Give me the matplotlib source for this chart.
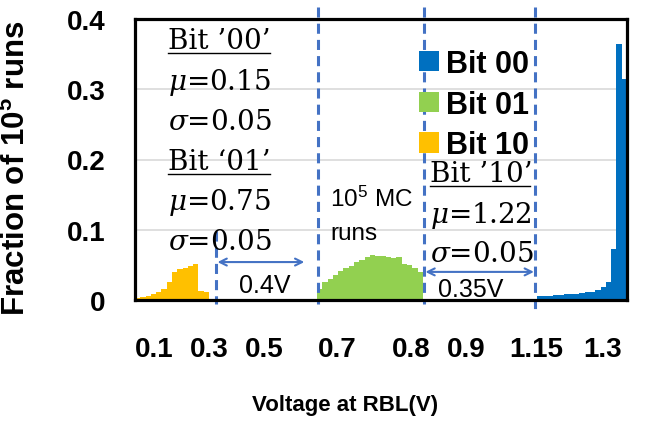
import numpy as np
import matplotlib.pyplot as plt
from matplotlib.lines import Line2D

plt.rcParams['font.family'] = 'Liberation Sans'
plt.rcParams['mathtext.fontset'] = 'custom'
plt.rcParams['mathtext.rm'] = 'Liberation Sans'
plt.rcParams['mathtext.bf'] = 'Liberation Sans:bold'
plt.rcParams['mathtext.it'] = 'Liberation Sans:italic'

W, H = 645, 427

# fraction of runs per voltage bin
bit10 = [0.003, 0.004, 0.006, 0.008, 0.011, 0.016, 0.026, 0.040, 0.044,
         0.046, 0.048, 0.051, 0.013, 0.012]
bit01 = [0.016, 0.025, 0.030, 0.035, 0.041, 0.045, 0.049, 0.054, 0.057,
         0.061, 0.064, 0.062, 0.063, 0.061, 0.060, 0.061, 0.051, 0.050,
         0.045, 0.040]
bit00 = [0.005, 0.006, 0.006, 0.007, 0.007, 0.008, 0.008, 0.009, 0.010,
         0.011, 0.012, 0.014, 0.018, 0.026, 0.073, 0.365, 0.315]

x_tick_labels = ["0.1", "0.3", "0.5", "0.7", "0.8", "0.9", "1.15", "1.3"]
y_tick_vals = [0, 0.1, 0.2, 0.3, 0.4]
y_tick_labels = ["0", "0.1", "0.2", "0.3", "0.4"]

# bin layout on the category axis
start10, start01, start00 = 0, 34.4, 76
tick_pos = [3.6, 14.0, 24.5, 38.3, 52.3, 62.6, 75.8, 88.3]
n_bins = 93

BLUE_LINE = '#4472C4'


def at(x, y):
    return x / W, 1 - y / H


fig = plt.figure(figsize=(W / 100, H / 100), dpi=100)
ax = fig.add_axes([135 / W, 1 - 301 / H, 492 / W, 281 / H])

b00 = ax.bar(start00 + np.arange(len(bit00)), bit00, width=1, align='edge',
             color='#0070C0', lw=0, label='Bit 00')
b01 = ax.bar(start01 + np.arange(len(bit01)), bit01, width=1, align='edge',
             color='#92D050', lw=0, label='Bit 01')
b10 = ax.bar(start10 + np.arange(len(bit10)), bit10, width=1, align='edge',
             color='#FFC000', lw=0, label='Bit 10')

ax.set_xlim(0, n_bins)
ax.set_ylim(0, 0.4)
ax.set_xticks(tick_pos)
ax.set_xticklabels(x_tick_labels, fontsize=20, fontweight='bold')
ax.set_yticks(y_tick_vals)
ax.set_yticklabels(y_tick_labels, fontsize=20, fontweight='bold')
ax.tick_params(axis='x', length=0, pad=26)
ax.tick_params(axis='y', length=0, pad=21)
ax.yaxis.grid(True, color='#D9D9D9', lw=1.2)
ax.set_axisbelow(True)
for s in ax.spines.values():
    s.set_linewidth(2.3)
    s.set_color('black')

ax.set_xlabel('Voltage at RBL(V)', fontsize=16, fontweight='bold')
ax.xaxis.set_label_coords(0.426, -0.335)
fig.text(*at(16, 168), r'Fraction of 10$^\mathbf{5}$ runs', fontsize=22.5,
         fontweight='bold', rotation=90, ha='center', va='center')

ax.legend(handles=[b00, b01, b10], loc='upper left', bbox_to_anchor=at(419, 50),
          bbox_transform=fig.transFigure, frameon=False, borderpad=0,
          borderaxespad=0, handlelength=0.65, handleheight=0.65,
          handletextpad=0.25, labelspacing=0.35,
          prop={'family': 'Liberation Sans', 'weight': 'bold', 'size': 22})

# separation markers between the distributions
dash_kw = dict(color=BLUE_LINE, lw=2.2, dashes=(3.3, 2), clip_on=False, zorder=1)
ax.plot([15.3, 15.3], [0.098, -0.006], **dash_kw)
ax.plot([34.5, 34.5], [0.417, -0.006], **dash_kw)
ax.plot([54.7, 54.7], [0.417, -0.006], **dash_kw)
ax.plot([75.7, 75.7], [0.417, -0.02], **dash_kw)

arrow_kw = dict(arrowstyle='<->,head_length=0.5,head_width=0.25',
                color=BLUE_LINE, lw=1.5, shrinkA=0, shrinkB=0)
ax.annotate('', xy=(32.0, 0.054), xytext=(15.6, 0.054), arrowprops=arrow_kw)
ax.annotate('', xy=(75.4, 0.040), xytext=(54.9, 0.040), arrowprops=arrow_kw)
ax.text(24.5, 0.012, '0.4V', fontsize=18, ha='center', va='baseline')
ax.text(63.4, 0.006, '0.35V', fontsize=18, ha='center', va='baseline')

# distribution statistics
serif = dict(fontsize=20, family='DejaVu Serif', math_fontfamily='dejavuserif',
             ha='left', va='baseline')
left_block = [("Bit \u201900\u2019", 49), (r"$\mu$=0.15", 90), (r"$\sigma$=0.05", 130),
              ("Bit \u201801\u2019", 170), (r"$\mu$=0.75", 210), (r"$\sigma$=0.05", 250)]
for s, y in left_block:
    fig.text(*at(168, y), s, **serif)
right_block = [("Bit \u201910\u2019", 182), (r"$\mu$=1.22", 223), (r"$\sigma$=0.05", 262)]
for s, y in right_block:
    fig.text(*at(430, y), s, **serif)
for x0, x1, y in [(168, 270, 54), (168, 270, 175), (430, 530, 187)]:
    fig.add_artist(Line2D([x0 / W, x1 / W], [1 - y / H] * 2, color='black', lw=1))

fig.text(*at(330, 207), r'10$^\mathrm{5}$ MC', fontsize=17.5, ha='left', va='baseline')
fig.text(*at(330, 240), 'runs', fontsize=17.5, ha='left', va='baseline')

fig.savefig('out.png', dpi=100)
